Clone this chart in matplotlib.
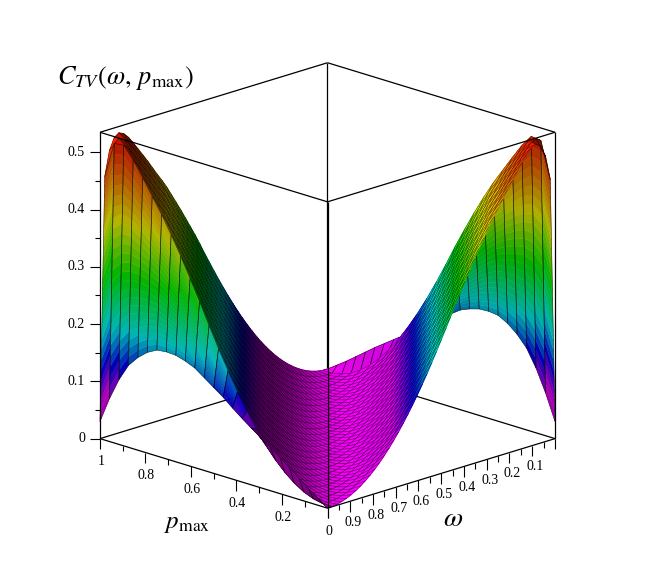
import numpy as np
import matplotlib
matplotlib.use("Agg")
import matplotlib.pyplot as plt
from matplotlib.colors import hsv_to_rgb
from mpl_toolkits.mplot3d import proj3d
from mpl_toolkits.mplot3d.art3d import Poly3DCollection

plt.rcParams['mathtext.fontset'] = 'stix'
plt.rcParams['font.family'] = ['Liberation Serif', 'DejaVu Serif']

# ---------------- values ----------------
# C_TV inside the square, listed by |omega + p_max - 1| = 0, 1/48, 2/48, ..., 47/48
ctv_by_distance = [0.000, 0.0004, 0.0017, 0.0039, 0.0069, 0.0108, 0.0156, 0.0212,
                   0.0276, 0.0349, 0.0429, 0.0518, 0.0615, 0.0720, 0.0832, 0.0952,
                   0.1080, 0.1214, 0.1355, 0.1503, 0.1657, 0.1817, 0.1983, 0.2154,
                   0.2330, 0.251, 0.269, 0.288, 0.306, 0.323, 0.340, 0.357,
                   0.373, 0.389, 0.405, 0.419, 0.432, 0.446, 0.460, 0.473,
                   0.486, 0.499, 0.511, 0.520, 0.524, 0.518, 0.498, 0.455]
# C_TV on the edge omega = 1, for p_max = 0, 1/24, ..., 1
ctv_edge_omega_1 = [0.000, 0.012, 0.024, 0.037, 0.050, 0.063, 0.075, 0.087, 0.099,
                    0.111, 0.124, 0.138, 0.150, 0.162, 0.174, 0.181, 0.186, 0.187,
                    0.185, 0.176, 0.162, 0.143, 0.113, 0.075, 0.030]
# C_TV on the edge omega = 0, for p_max = 0, 1/24, ..., 1
ctv_edge_omega_0 = [0.030, 0.075, 0.113, 0.143, 0.162, 0.176, 0.185, 0.187, 0.186,
                    0.181, 0.174, 0.162, 0.150, 0.138, 0.124, 0.111, 0.099, 0.087,
                    0.075, 0.063, 0.050, 0.037, 0.024, 0.012, 0.000]

p_major = [0, 0.2, 0.4, 0.6, 0.8, 1.0]
p_minor = [0.1, 0.3, 0.5, 0.7, 0.9]
p_labels = ['0', '0.2', '0.4', '0.6', '0.8', '1']
w_major = [0, 0.1, 0.2, 0.3, 0.4, 0.5, 0.6, 0.7, 0.8, 0.9, 1.0]
w_minor = [0.05, 0.15, 0.25, 0.35, 0.45, 0.55, 0.65, 0.75, 0.85, 0.95]
w_label_pos = [0.1, 0.2, 0.3, 0.4, 0.5, 0.6, 0.7, 0.8, 0.9]
w_labels = ['0.1', '0.2', '0.3', '0.4', '0.5', '0.6', '0.7', '0.8', '0.9']
z_major = [0, 0.1, 0.2, 0.3, 0.4, 0.5]
z_minor = [0.05, 0.15, 0.25, 0.35, 0.45]
z_labels = ['0', '0.1', '0.2', '0.3', '0.4', '0.5']

# colour scale (height -> hue), magenta at the bottom, red at the top
hue_stop_z = [0.0, 0.08, 0.12, 0.16, 0.20, 0.30, 0.39, 0.46, 0.535]
hue_stop_h = [0.833, 0.82, 0.72, 0.60, 0.50, 0.32, 0.16, 0.08, 0.0]

ZMAX = 0.535
ELEV, AZIM = 17.8, 135.0
FW, FH = 654.0, 571.0

# ---------------- surface grid ----------------
n_p = len(ctv_edge_omega_1)          # 25 rows (p_max)
n_w = 2 * (n_p - 1) + 1              # 49 columns (omega)
p_vals = np.linspace(0, 1, n_p)
w_vals = np.linspace(0, 1, n_w)
P, W = np.meshgrid(p_vals, w_vals, indexing='ij')
I, J = np.meshgrid(np.arange(n_p), np.arange(n_w), indexing='ij')
k = np.abs(J + 2 * I - (n_w - 1))
prof = np.asarray(ctv_by_distance)
Z = prof[np.minimum(k, len(prof) - 1)]
Z[:, -1] = ctv_edge_omega_1
Z[:, 0] = ctv_edge_omega_0
dp, dw = 1 / (n_p - 1), 1 / (n_w - 1)

el, az = np.radians(ELEV), np.radians(AZIM)
cam = np.array([np.cos(el) * np.cos(az), np.cos(el) * np.sin(az), np.sin(el)])
light = np.array([0.40, 0.50, 0.80])
light /= np.linalg.norm(light)


def hue_rgb(z):
    h = np.interp(np.asarray(z, float), hue_stop_z, hue_stop_h)
    one = np.ones_like(h)
    return hsv_to_rgb(np.stack([h, one, one], -1))


def shade_of(z00, z10, z01, z11):
    """two-sided lighting; z[i,j] with i along p_max, j along omega"""
    dzp = ((z10 + z11) - (z00 + z01)) / 2 / dp / ZMAX
    dzw = ((z01 + z11) - (z00 + z10)) / 2 / dw / ZMAX
    n = np.stack([-dzp, -dzw, np.ones_like(dzp)], -1)
    n = n / np.linalg.norm(n, axis=-1, keepdims=True)
    n = np.where(((n @ cam) < 0)[..., None], -n, n)
    lam = np.clip(n @ light, 0, 1)
    return 0.40 + 0.60 * lam


# ---------------- figure ----------------
fig = plt.figure(figsize=(FW / 100, FH / 100), dpi=100)
ax = fig.add_axes([0, 0, 1, 1], projection='3d', computed_zorder=False)
ax.set_proj_type('ortho')
ax.view_init(elev=ELEV, azim=AZIM)
ax.set_box_aspect((1, 1, 1))
ax.set_xlim(0, 1)
ax.set_ylim(0, 1)
ax.set_zlim(0, ZMAX)
ax.set_axis_off()

# main (interior) part of the surface: omega from 1/48 to 47/48
Pm, Wm, Zm = P[:, 1:-1], W[:, 1:-1], Z[:, 1:-1]
zc = 0.25 * (Zm[:-1, :-1] + Zm[1:, :-1] + Zm[:-1, 1:] + Zm[1:, 1:])
sh = shade_of(Zm[:-1, :-1], Zm[1:, :-1], Zm[:-1, 1:], Zm[1:, 1:])
face_rgb = hue_rgb(zc) * sh[..., None]
fc = np.ones(Zm.shape + (4,))
fc[:-1, :-1, :3] = face_rgb

# an under-layer without mesh lines fills the thin antialiasing seams
under_polys, under_cols = [], []
for i in range(Zm.shape[0] - 1):
    for j in range(Zm.shape[1] - 1):
        under_polys.append([(Pm[i, j], Wm[i, j], Zm[i, j]),
                            (Pm[i + 1, j], Wm[i + 1, j], Zm[i + 1, j]),
                            (Pm[i + 1, j + 1], Wm[i + 1, j + 1], Zm[i + 1, j + 1]),
                            (Pm[i, j + 1], Wm[i, j + 1], Zm[i, j + 1])])
        under_cols.append(np.append(face_rgb[i, j], 1.0))
under = Poly3DCollection(under_polys, facecolors=under_cols, edgecolors=under_cols,
                         linewidths=0.6)
under.set_zorder(1.9)
ax.add_collection3d(under)

ax.plot_surface(Pm, Wm, Zm, facecolors=fc, shade=False, rstride=1, cstride=1,
                edgecolor=(0.0, 0.0, 0.0, 0.5), linewidth=0.38,
                antialiased=True, zorder=2)


def wall(j_in, j_edge, zo, m=24):
    polys, cols, quads = [], [], []
    for i in range(n_p - 1):
        A = np.array([p_vals[i], w_vals[j_in], Z[i, j_in]])
        B = np.array([p_vals[i + 1], w_vals[j_in], Z[i + 1, j_in]])
        C = np.array([p_vals[i + 1], w_vals[j_edge], Z[i + 1, j_edge]])
        D = np.array([p_vals[i], w_vals[j_edge], Z[i, j_edge]])
        jl, jh = min(j_in, j_edge), max(j_in, j_edge)
        s = shade_of(np.array(Z[i, jl]), np.array(Z[i + 1, jl]),
                     np.array(Z[i, jh]), np.array(Z[i + 1, jh]))
        quads.append([A, B, C, D])
        ts = np.linspace(0, 1, m + 1)
        for t0, t1 in zip(ts[:-1], ts[1:]):
            E0, E1 = D + t0 * (A - D), D + t1 * (A - D)
            F0, F1 = C + t0 * (B - C), C + t1 * (B - C)
            poly = [E0, F0, F1, E1]
            zm = np.mean([q[2] for q in poly])
            polys.append(poly)
            cols.append(np.append(hue_rgb(zm) * s, 1.0))
    coll = Poly3DCollection(polys, facecolors=cols, edgecolors=cols, linewidths=0.3)
    coll.set_zorder(zo)
    ax.add_collection3d(coll)
    mesh = Poly3DCollection(quads, facecolors=[(0, 0, 0, 0)] * len(quads),
                            edgecolors=[(0, 0, 0, 0.6)] * len(quads), linewidths=0.45)
    mesh.set_zorder(zo + 0.01)
    ax.add_collection3d(mesh)


wall(n_w - 2, n_w - 1, 2.5)   # omega = 1 side (front)
wall(1, 0, 1.5)               # omega = 0 side (seen from below, behind)


def seg(a, b, zo, lw=0.9):
    ax.plot([a[0], b[0]], [a[1], b[1]], [a[2], b[2]], color='black',
            lw=lw, zorder=zo, clip_on=False, solid_capstyle='butt')


# back edges (behind the surface)
seg((1, 0, 0), (1, 0, ZMAX), 1)
seg((1, 1, 0), (1, 0, 0), 1)
seg((0, 0, 0), (1, 0, 0), 1)
seg((1, 1, ZMAX), (1, 0, ZMAX), 1)
seg((0, 0, ZMAX), (1, 0, ZMAX), 1)
# front edges
seg((0, 1, 0), (0, 1, ZMAX), 3)
seg((0, 1, 0), (1, 1, 0), 3)
seg((0, 1, 0), (0, 0, 0), 3)
seg((0, 1, ZMAX), (1, 1, ZMAX), 3)
seg((0, 1, ZMAX), (0, 0, ZMAX), 3)
seg((1, 1, 0), (1, 1, ZMAX), 3)
seg((0, 0, 0), (0, 0, ZMAX), 3)

# ticks
for p in p_major:
    seg((p, 1, 0), (p, 1, -0.018), 3, 0.8)
for p in p_minor:
    seg((p, 1, 0), (p, 1, -0.010), 3, 0.8)
for w in w_major:
    seg((0, w, 0), (0, w, -0.018), 3, 0.8)
for w in w_minor:
    seg((0, w, 0), (0, w, -0.010), 3, 0.8)
for zt in z_major:
    seg((1, 1, zt), (1.022, 1.022, zt), 3, 0.8)
for zt in z_minor:
    seg((1, 1, zt), (1.012, 1.012, zt), 3, 0.8)

# ---------- place the box where it sits in the reference ----------
fig.canvas.draw()


def disp(p, w, z):
    M = ax.get_proj()
    xs, ys, _ = proj3d.proj_transform(np.array([p]), np.array([w]), np.array([z]), M)
    return ax.transData.transform(np.column_stack([xs, ys]))[0]


Lc, Rc = disp(1, 1, 0), disp(0, 0, 0)
Fb, Ft = disp(0, 1, 0), disp(0, 1, ZMAX)
s = (555 - 100) / (Rc[0] - Lc[0])
pos = ax.get_position()
x0, y0 = pos.x0 * FW, pos.y0 * FH
size = pos.width * FW
c = np.array([x0 + size / 2, y0 + size / 2])
mid_now = np.array([(Lc[0] + Rc[0]) / 2, (Fb[1] + Ft[1]) / 2])
mid_tgt = np.array([327.5, FH - (510 + 200) / 2])
new_c = mid_tgt - s * (mid_now - c)
new_size = size * s
ax.set_position([(new_c[0] - new_size / 2) / FW, (new_c[1] - new_size / 2) / FH,
                 new_size / FW, new_size / FH])
fig.canvas.draw()

# ---------- tick labels (placed at the projected tick positions) ----------
tfs = 10
for p, lab in zip(p_major, p_labels):
    x, y = disp(p, 1, 0)
    fig.text((x + 1) / FW, (y - 23) / FH, lab, ha='center', va='center', fontsize=tfs)
for w, lab in zip(w_label_pos, w_labels):
    x, y = disp(0, w, 0)
    fig.text((x + 3) / FW, (y - 21) / FH, lab, ha='center', va='center', fontsize=tfs)
for zt, lab in zip(z_major, z_labels):
    x, y = disp(1, 1, zt)
    fig.text((x - 15) / FW, y / FH, lab, ha='right', va='center', fontsize=tfs)

fig.text(57 / FW, 1 - 78 / FH, r'$C_{TV}(\omega,\, p_{\max})$', fontsize=19,
         ha='left', va='center')
fig.text(187 / FW, 1 - 524 / FH, r'$p_{\max}$', fontsize=18, ha='center', va='center')
fig.text(453 / FW, 1 - 519 / FH, r'$\omega$', fontsize=20, ha='center', va='center')

fig.savefig('out.png', dpi=100)
